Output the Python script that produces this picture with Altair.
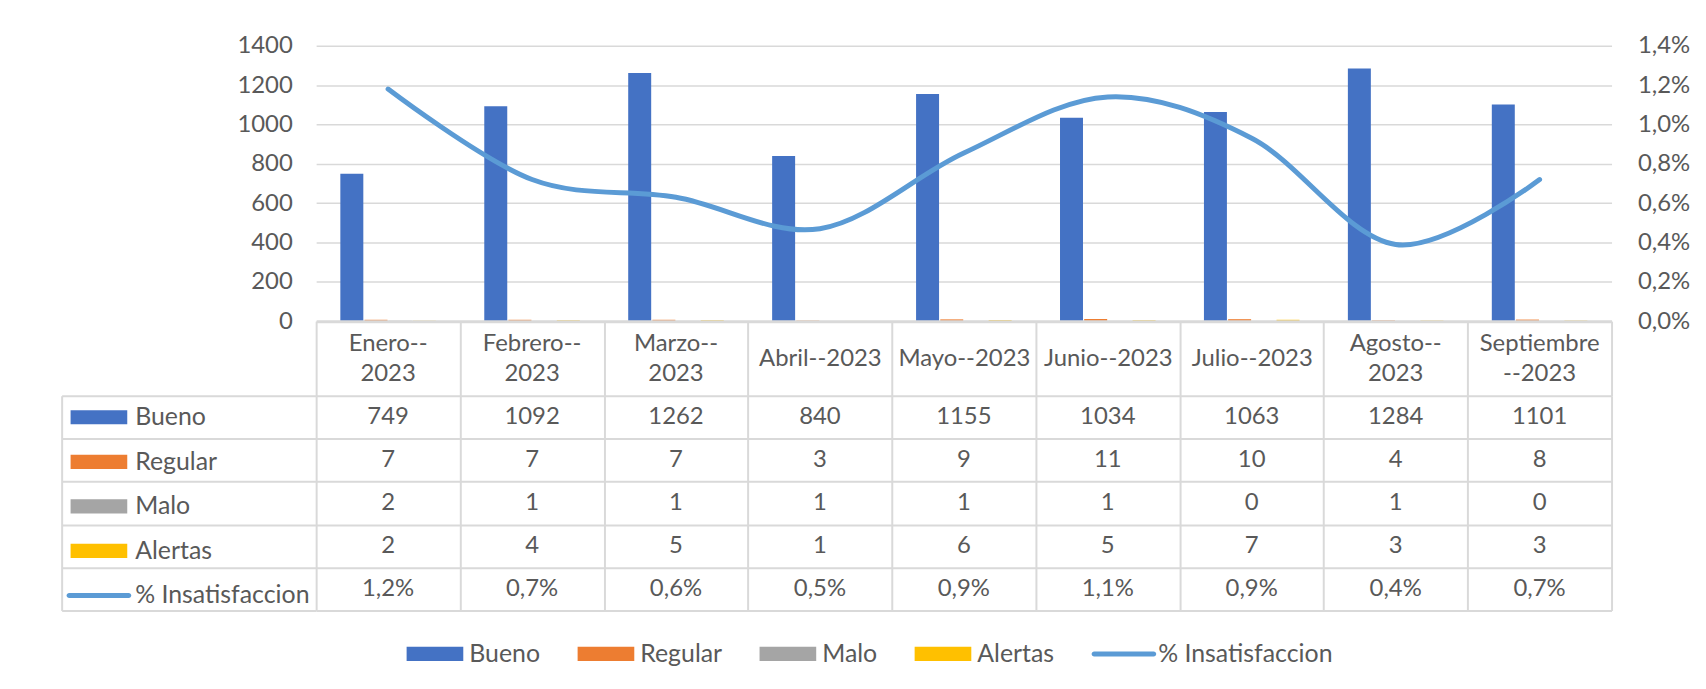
import json
import altair as alt
import pandas as pd

# ---- data -------------------------------------------------------------
months = ["Enero--2023", "Febrero--2023", "Marzo--2023", "Abril--2023", "Mayo--2023",
          "Junio--2023", "Julio--2023", "Agosto--2023", "Septiembre--2023"]
# how each month name wraps inside its header cell
header_lines = [["Enero--", "2023"], ["Febrero--", "2023"], ["Marzo--", "2023"], ["Abril--2023"],
                ["Mayo--2023"], ["Junio--2023"], ["Julio--2023"], ["Agosto--", "2023"],
                ["Septiembre", "--2023"]]

bueno = [749, 1092, 1262, 840, 1155, 1034, 1063, 1284, 1101]
regular = [7, 7, 7, 3, 9, 11, 10, 4, 8]
malo = [2, 1, 1, 1, 1, 1, 0, 1, 0]
alertas = [2, 4, 5, 1, 6, 5, 7, 3, 3]
insatisfaccion = [0.0118, 0.0072, 0.0063, 0.0047, 0.00855, 0.0114, 0.0093, 0.0039, 0.0072]

bar_series = ["Bueno", "Regular", "Malo", "Alertas"]
line_series = "% Insatisfaccion"
series = bar_series + [line_series]
colors = ["#4472C4", "#ED7D31", "#A5A5A5", "#FFC000", "#5B9BD5"]

# legend keys: wide blocks for the columns, a rounded stroke for the line
BLOCK = "M-1,-0.25H1V0.25H-1Z"
STROKE = "M-1.05,-0.09H1.05A0.09,0.09 0 0 1 1.05,0.09H-1.05A0.09,0.09 0 0 1 -1.05,-0.09Z"
shapes = [BLOCK, BLOCK, BLOCK, BLOCK, STROKE]

bar_values = [bueno, regular, malo, alertas]
bars_df = pd.DataFrame([
    {"month": m, "series": s, "value": v}
    for s, vals in zip(bar_series, bar_values)
    for m, v in zip(months, vals)
])
line_df = pd.DataFrame({"month": months, "value": insatisfaccion})
table_df = pd.concat([
    bars_df,
    pd.DataFrame({"month": months, "series": line_series, "value": insatisfaccion}),
], ignore_index=True)
series_df = pd.DataFrame({"series": series})

# ---- styling ----------------------------------------------------------
FONT = "Lato"
TXT = "#595959"
GRID = "#D9D9D9"
FS = 24
W = 1303          # width of the plot / data columns
H_TOP = 277       # column chart height
HEADER = 75       # header row with month names
H_TABLE = 216     # five data rows
LABEL_COL = 256   # series-name column of the data table
LINE_H = 30       # line spacing of wrapped header labels

color_scale = alt.Scale(domain=series, range=colors)
shape_scale = alt.Scale(domain=series, range=shapes)
month_scale = alt.Scale(domain=months, paddingInner=0, paddingOuter=0)


def label_expr(entries):
    return "".join(
        f"datum.value === {json.dumps(m)} ? {json.dumps(text)} : " for m, text in entries
    ) + "''"


# one-line month names sit on the header axis itself ...
single_expr = label_expr([(m, l[0]) for m, l in zip(months, header_lines) if len(l) == 1])
# ... wrapped ones on a second, tick-less axis a half line higher
double_expr = label_expr([(m, l) for m, l in zip(months, header_lines) if len(l) == 2])
pct_expr = "replace(format(datum.value, '.1%'), '.', ',')"

# ---- column + line chart ----------------------------------------------
x_header = alt.X(
    "month:N", sort=months, scale=month_scale,
    axis=alt.Axis(
        title=None, orient="bottom", labelAngle=0, zindex=1,
        domainColor=GRID, domainWidth=3,
        tickBand="extent", tickSize=HEADER, tickColor=GRID, tickWidth=2,
        labelExpr=single_expr, labelBaseline="middle",
        labelPadding=-HEADER / 2, labelLimit=0,
    ),
)
x_wrapped = alt.X(
    "month:N", sort=months, scale=month_scale,
    axis=alt.Axis(
        title=None, orient="bottom", labelAngle=0, domain=False, ticks=False, tickSize=0,
        labelExpr=double_expr, labelBaseline="middle", labelLineHeight=LINE_H,
        labelPadding=HEADER / 2 - LINE_H / 2, labelLimit=0,
    ),
)

bottom_legend = alt.Legend(
    title=None, orient="none", direction="horizontal", legendX=91, legendY=583,
    symbolSize=3249, symbolStrokeWidth=0, symbolOpacity=1,
    labelOffset=6, columnPadding=37, padding=0,
    labelFont=FONT, labelFontSize=25, labelColor=TXT, labelLimit=400,
)

bars = alt.Chart(bars_df).mark_bar().encode(
    x=x_header,
    xOffset=alt.XOffset("series:N", sort=bar_series,
                        scale=alt.Scale(domain=bar_series, paddingInner=0.05, paddingOuter=1)),
    y=alt.Y("value:Q", scale=alt.Scale(domain=[0, 1400], nice=False),
            axis=alt.Axis(title=None, values=list(range(0, 1401, 200)), format="d",
                          grid=True, gridColor=GRID, gridWidth=1.5,
                          domain=False, ticks=False, labelPadding=24)),
    color=alt.Color("series:N", scale=color_scale, legend=bottom_legend),
)

line = alt.Chart(line_df).mark_line(
    interpolate="cardinal", strokeWidth=5, strokeCap="round", strokeJoin="round",
    color="#5B9BD5",
).encode(
    x=x_wrapped,
    y=alt.Y("value:Q", scale=alt.Scale(domain=[0, 0.014], nice=False),
            axis=alt.Axis(title=None, orient="right",
                          values=[round(i * 0.002, 3) for i in range(8)],
                          labelExpr=pct_expr, grid=False, domain=False, ticks=False,
                          labelPadding=26)),
)

legend_keys_top = alt.Chart(series_df).mark_point(opacity=0, filled=True).encode(
    color=alt.Color("series:N", scale=color_scale, legend=bottom_legend),
    shape=alt.Shape("series:N", scale=shape_scale, legend=bottom_legend),
)

top = alt.layer(bars, line, legend_keys_top).resolve_scale(
    y="independent"
).resolve_axis(
    x="independent"
).properties(width=W, height=H_TOP)

# ---- data table under the chart ---------------------------------------
row_scale = alt.Scale(domain=series, paddingInner=0, paddingOuter=0)

cells = alt.Chart(table_df).transform_calculate(
    label=f"datum.series === '{line_series}' ? {pct_expr} : format(datum.value, 'd')"
).mark_text(font=FONT, fontSize=FS, color=TXT, baseline="middle", align="center").encode(
    x=alt.X("month:N", sort=months, scale=month_scale,
            axis=alt.Axis(title=None, orient="top", labels=False, ticks=False, domain=False,
                          grid=True, tickBand="extent", gridColor=GRID, gridWidth=2)),
    y=alt.Y("series:N", sort=series, scale=row_scale,
            axis=alt.Axis(title=None, orient="left", labels=False, domain=False,
                          grid=True, tickBand="extent", gridColor=GRID, gridWidth=2,
                          ticks=True, tickSize=LABEL_COL, tickColor=GRID, tickWidth=2)),
    text="label:N",
)

table_legend = alt.Legend(
    title=None, orient="none", direction="vertical", legendX=-247, legendY=-6.8,
    symbolSize=3249, symbolStrokeWidth=0, symbolOpacity=1,
    labelOffset=8, rowPadding=2.8, padding=0,
    labelFont=FONT, labelFontSize=25, labelColor=TXT, labelLimit=400,
)
legend_keys_table = alt.Chart(series_df).mark_point(opacity=0, filled=True).encode(
    y=alt.Y("series:N", sort=series, scale=row_scale,
            axis=alt.Axis(title=None, orient="left", offset=LABEL_COL, labels=False,
                          ticks=False, grid=False, domain=True, domainColor=GRID,
                          domainWidth=2)),
    color=alt.Color("series:N", scale=color_scale, legend=table_legend),
    shape=alt.Shape("series:N", scale=shape_scale, legend=table_legend),
)

table = alt.layer(cells, legend_keys_table).resolve_axis(y="independent").properties(
    width=W, height=H_TABLE)

# ---- assemble ---------------------------------------------------------
chart = alt.vconcat(top, table, spacing=HEADER, bounds="flush").resolve_scale(
    color="independent", shape="independent"
).properties(
    autosize=alt.AutoSizeParams(type="pad"),
    padding={"left": 60, "top": 31, "right": 15, "bottom": 25},
    background="white",
).configure_view(
    stroke="transparent"
).configure_axis(
    labelFont=FONT, labelFontSize=FS, labelColor=TXT
).configure_legend(
    labelFont=FONT, labelFontSize=FS, labelColor=TXT
)

chart.save("out.html", embed_options={"renderer": "svg", "actions": False})
